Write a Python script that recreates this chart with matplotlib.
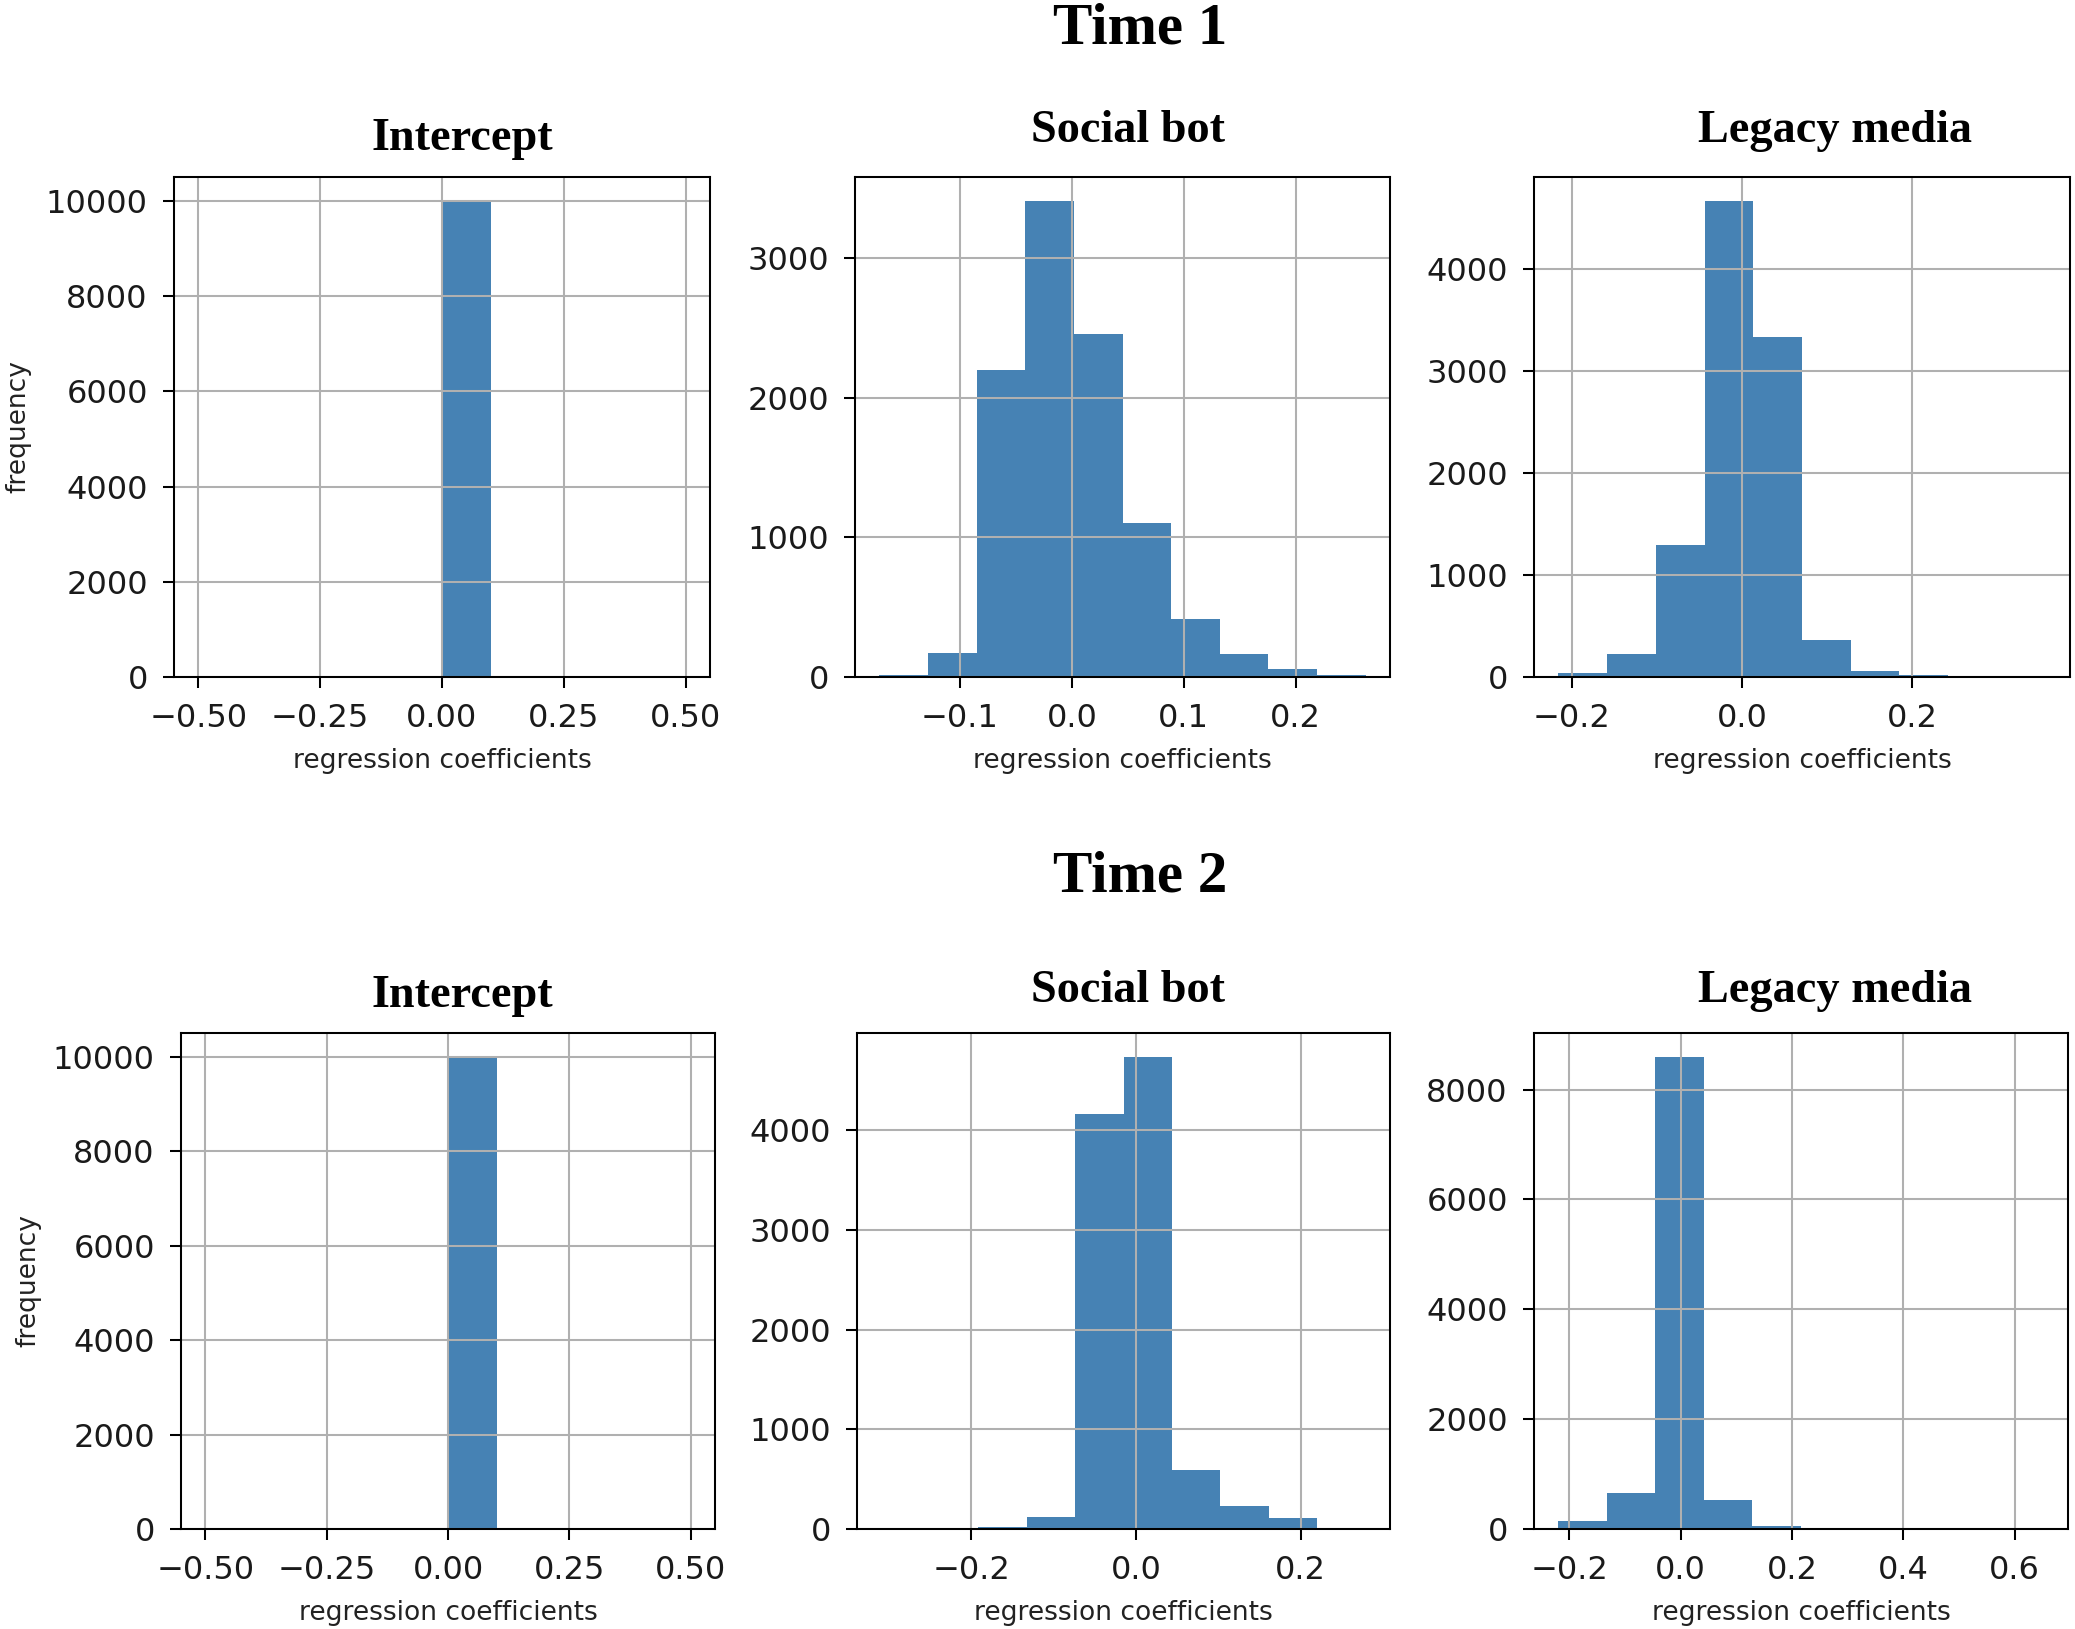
import numpy as np
import matplotlib
matplotlib.use("Agg")
import matplotlib.pyplot as plt

# ---------------- data ----------------
panel_titles = ["Intercept", "Social bot", "Legacy media"]
row_titles = ["Time 1", "Time 2"]
xlabel_text = "regression coefficients"
ylabel_text = "frequency"

# Time 1: (min, max) of coefficients and counts in the 10 histogram bins
t1_intercept_range = (-0.5, 0.5)
t1_intercept_counts = [0, 0, 0, 0, 0, 10000, 0, 0, 0, 0]
t1_social_range = (-0.172, 0.2624)
t1_social_counts = [12, 175, 2195, 3410, 2455, 1105, 415, 165, 55, 13]
t1_legacy_range = (-0.216, 0.357)
t1_legacy_counts = [38, 230, 1295, 4670, 3330, 360, 60, 15, 1, 1]

# Time 2
t2_intercept_range = (-0.5, 0.5)
t2_intercept_counts = [0, 0, 0, 0, 0, 10000, 0, 0, 0, 0]
t2_social_range = (-0.309, 0.279)
t2_social_counts = [1, 0, 17, 120, 4165, 4740, 595, 235, 115, 12]
t2_legacy_range = (-0.22, 0.652)
t2_legacy_counts = [150, 660, 8600, 530, 58, 0, 0, 0, 0, 2]

# tick labels
intercept_xticks = [-0.5, -0.25, 0.0, 0.25, 0.5]
intercept_yticks = [0, 2000, 4000, 6000, 8000, 10000]
t1_social_xticks = [-0.1, 0.0, 0.1, 0.2]
t1_social_yticks = [0, 1000, 2000, 3000]
t1_legacy_xticks = [-0.2, 0.0, 0.2]
t1_legacy_yticks = [0, 1000, 2000, 3000, 4000]
t2_social_xticks = [-0.2, 0.0, 0.2]
t2_social_yticks = [0, 1000, 2000, 3000, 4000]
t2_legacy_xticks = [-0.2, 0.0, 0.2, 0.4, 0.6]
t2_legacy_yticks = [0, 2000, 4000, 6000, 8000]

# ---------------- figure ----------------
DPI = 185
W, H = 2075, 1629
fig = plt.figure(figsize=(W / DPI, H / DPI), dpi=DPI)
plt.rcParams['axes.linewidth'] = 0.8

bar_color = "#4682b4"
serif = ["Liberation Serif", "DejaVu Serif"]

panels = [
    [(t1_intercept_range, t1_intercept_counts, intercept_xticks, intercept_yticks),
     (t1_social_range, t1_social_counts, t1_social_xticks, t1_social_yticks),
     (t1_legacy_range, t1_legacy_counts, t1_legacy_xticks, t1_legacy_yticks)],
    [(t2_intercept_range, t2_intercept_counts, intercept_xticks, intercept_yticks),
     (t2_social_range, t2_social_counts, t2_social_xticks, t2_social_yticks),
     (t2_legacy_range, t2_legacy_counts, t2_legacy_xticks, t2_legacy_yticks)],
]

# axes boxes in pixels: (left, right) per column, (top, bottom) per row
col_px = [[(174, 710), (855, 1390), (1534, 2070)],
          [(181, 715), (857, 1390), (1534, 2068)]]
row_px = [(177, 677), (1033, 1529)]
title_pad = [[10.5, 13.5, 13.5], [10, 12, 12]]
title_x_px = [462, 1128, 1835]
row_title_y = [29, 878]
ylabel_x = [-0.266, -0.262]

for r in range(2):
    top, bot = row_px[r]
    for c in range(3):
        l, rr = col_px[r][c]
        ax = fig.add_axes([l / W, 1 - bot / H, (rr - l) / W, (bot - top) / H])
        rng, counts, xt, yt = panels[r][c]
        edges = np.linspace(rng[0], rng[1], len(counts) + 1)
        ax.hist(edges[:-1], bins=edges, weights=counts, color=bar_color)
        ax.grid(True, color="#b0b0b0", linewidth=0.8)
        ax.set_xticks(xt)
        ax.set_yticks(yt)
        ax.tick_params(labelsize=12.5, length=4.2, width=0.8, pad=6,
                       labelcolor="#1a1a1a")
        ax.set_xlabel(xlabel_text, fontsize=10.3, color="#222222", labelpad=5.5)
        ax.set_title(panel_titles[c], fontsize=18, fontweight="bold",
                     family=serif, pad=title_pad[r][c],
                     x=(title_x_px[c] - l) / (rr - l))
        if c == 0:
            ax.set_ylabel(ylabel_text, fontsize=10.3, color="#222222")
            ax.yaxis.set_label_coords(ylabel_x[r], 0.5)
    fig.text(1140 / W, 1 - row_title_y[r] / H, row_titles[r], ha="center",
             va="center", fontsize=23, fontweight="bold", family=serif)

fig.savefig("out.png", dpi=DPI)
